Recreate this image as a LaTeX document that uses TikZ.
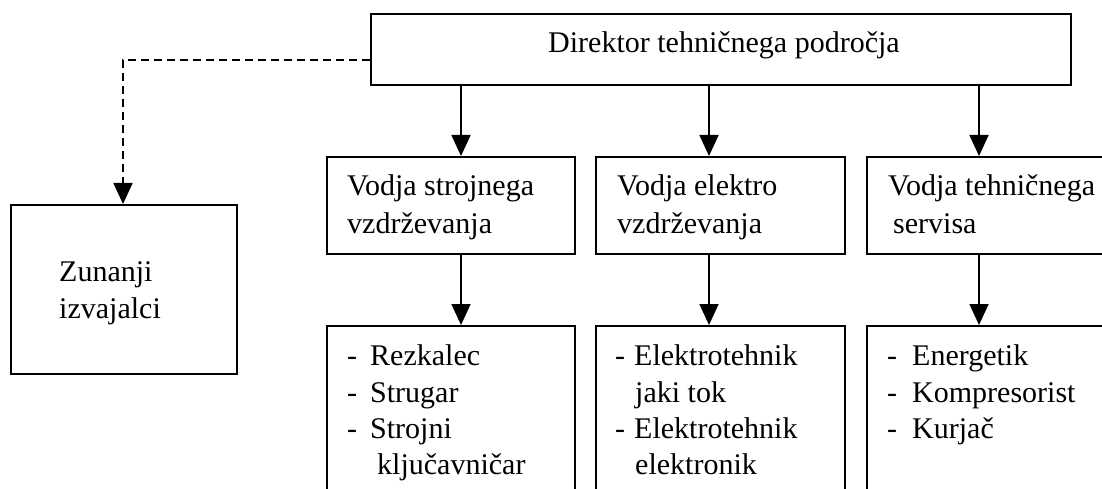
\documentclass[tikz,border=0pt]{standalone}
\usepackage{fontspec}
\setmainfont{Liberation Serif}
\usetikzlibrary{arrows.meta}
\begin{document}
\begin{tikzpicture}[x=1pt,y=-1pt,
  box/.style={draw, line width=1.7pt, inner sep=0pt, anchor=north west},
  lbl/.style={anchor=base west, inner sep=0pt, font=\fontsize{30}{37}\selectfont},
  arr/.style={line width=1.7pt, -{Triangle[length=21pt,width=19pt]}},
  darr/.style={line width=1.7pt, dash pattern=on 8pt off 5pt, -{Triangle[length=21pt,width=19pt]}}]
\useasboundingbox (0,0) rectangle (1102,489);
\clip (0,0) rectangle (1102,489);
% boxes
\node[box, minimum width=700pt, minimum height=71pt] (top) at (370,13) {};
\node[box, minimum width=226pt, minimum height=169pt] (ext) at (10,204) {};
\node[box, minimum width=248pt, minimum height=97pt] (m1) at (326,156) {};
\node[box, minimum width=249pt, minimum height=97pt] (m2) at (595,156) {};
\node[box, minimum width=260pt, minimum height=97pt] (m3) at (866,156) {};
\node[box, minimum width=248pt, minimum height=200pt] (b1) at (326,325) {};
\node[box, minimum width=249pt, minimum height=200pt] (b2) at (595,325) {};
\node[box, minimum width=260pt, minimum height=200pt] (b3) at (866,325) {};
% guide coordinates
\coordinate (c1) at (461,0);
\coordinate (c2) at (709,0);
\coordinate (c3) at (979,0);
\coordinate (cd) at (123,60);
% connectors
\draw[arr] (top.south -| c1) -- (m1.north -| c1);
\draw[arr] (top.south -| c2) -- (m2.north -| c2);
\draw[arr] (top.south -| c3) -- (m3.north -| c3);
\draw[arr] (m1.south -| c1) -- (b1.north -| c1);
\draw[arr] (m2.south -| c2) -- (b2.north -| c2);
\draw[arr] (m3.south -| c3) -- (b3.north -| c3);
\draw[darr] (top.west |- cd) -- (cd) -- (ext.north -| cd);
% texts
\node[lbl] (ttop) at (548,53) {Direktor tehničnega področja};
\node[lbl] (te1) at (59,281) {Zunanji};
\node[lbl] (te2) at (59,318) {izvajalci};
\node[lbl] (tm1a) at (347,195) {Vodja strojnega};
\node[lbl] (tm1b) at (347,233) {vzdrževanja};
\node[lbl] (tm2a) at (617,195) {Vodja elektro};
\node[lbl] (tm2b) at (617,233) {vzdrževanja};
\node[lbl] (tm3a) at (888,195) {Vodja tehničnega};
\node[lbl] (tm3b) at (893,233) {servisa};
\node[lbl] (d11) at (347,365) {-};
\node[lbl] (t11) at (370,365) {Rezkalec};
\node[lbl] (d12) at (347,402) {-};
\node[lbl] (t12) at (370,402) {Strugar};
\node[lbl] (d13) at (347,438) {-};
\node[lbl] (t13) at (370,438) {Strojni};
\node[lbl] (t14) at (377,474) {ključavničar};
\node[lbl] (d21) at (615,365) {-};
\node[lbl] (t21) at (634,365) {Elektrotehnik};
\node[lbl] (t22) at (635,402) {jaki tok};
\node[lbl] (d23) at (615,438) {-};
\node[lbl] (t23) at (634,438) {Elektrotehnik};
\node[lbl] (t24) at (635,474) {elektronik};
\node[lbl] (d31) at (887,365) {-};
\node[lbl] (t31) at (912,365) {Energetik};
\node[lbl] (d32) at (887,402) {-};
\node[lbl] (t32) at (912,402) {Kompresorist};
\node[lbl] (d33) at (887,438) {-};
\node[lbl] (t33) at (912,438) {Kurjač};
\end{tikzpicture}
\end{document}
